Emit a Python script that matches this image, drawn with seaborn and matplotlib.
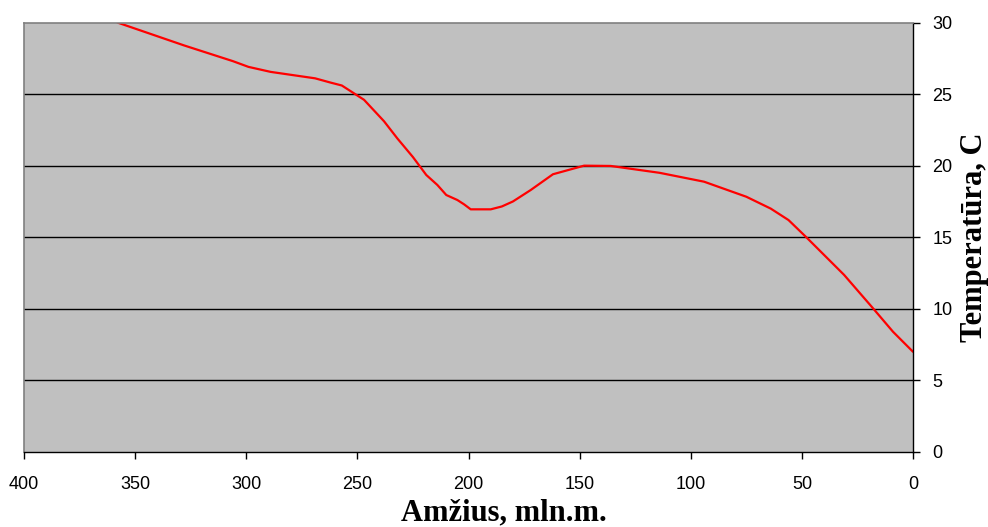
import matplotlib
matplotlib.use("Agg")
import matplotlib.pyplot as plt
import seaborn as sns
import pandas as pd

# Age (million years ago) and temperature (°C)
age_myr = [358, 328, 306, 299, 289, 269, 262, 257, 247, 238, 232, 225, 219,
           214, 210, 205, 202, 199, 190, 185, 180, 172, 162, 148, 136, 114,
           94, 75, 64, 56, 48, 31, 18, 9, 0]
temperature = [30.0, 28.4, 27.3, 26.9, 26.55, 26.1, 25.8, 25.6, 24.6, 23.1,
               21.9, 20.6, 19.35, 18.65, 17.95, 17.6, 17.3, 16.95, 16.95,
               17.15, 17.5, 18.3, 19.4, 20.0, 19.98, 19.5, 18.88, 17.83, 17.0,
               16.2, 15.0, 12.37, 10.04, 8.4, 7.0]

x_ticks = [400, 350, 300, 250, 200, 150, 100, 50, 0]
y_ticks = [0, 5, 10, 15, 20, 25, 30]

df = pd.DataFrame({"age": age_myr, "temp": temperature})

sns.set_style("white")
plt.rcParams["font.family"] = ["Liberation Sans", "DejaVu Sans"]
plt.rcParams["text.color"] = "black"
plt.rcParams["xtick.color"] = "black"
plt.rcParams["ytick.color"] = "black"

fig = plt.figure(figsize=(9.88, 5.27), dpi=100)
ax = fig.add_axes([24 / 988, 1 - 452 / 527, 889 / 988, 429.5 / 527])
ax.set_facecolor("#C0C0C0")

sns.lineplot(data=df, x="age", y="temp", ax=ax, color="#FF0000",
             linewidth=1.6, sort=False)

ax.set_xlim(400, 0)
ax.set_ylim(0, 30)
ax.set_xticks(x_ticks)
ax.set_yticks(y_ticks)
ax.set_xticklabels([str(v) for v in x_ticks], fontsize=13, color="black")
ax.set_yticklabels([str(v) for v in y_ticks], fontsize=13, color="black")

ax.yaxis.tick_right()
ax.tick_params(axis="x", direction="out", length=5, width=1, color="black",
               labelcolor="black", pad=12, bottom=True)
ax.tick_params(axis="y", direction="out", length=5, width=1, color="black",
               labelcolor="black", pad=9, right=True, left=False)

ax.grid(False)
for yv in y_ticks[1:-1]:
    ax.axhline(yv, color="black", linewidth=1, zorder=1)

for side in ("left", "top"):
    ax.spines[side].set_color("#808080")
    ax.spines[side].set_linewidth(1.2)
for side in ("right", "bottom"):
    ax.spines[side].set_color("black")
    ax.spines[side].set_linewidth(1.0)
for s in ax.spines.values():
    s.set_visible(True)

ax.set_xlabel("")
ax.set_ylabel("")
fig.text(504 / 988, 1 - 513 / 527, "Amžius, mln.m.", fontsize=22,
         fontweight="bold", family="Liberation Serif", color="black",
         ha="center", va="center")
fig.text(974 / 988, 1 - 237 / 527, "Temperatūra, C", fontsize=22,
         fontweight="bold", family="Liberation Serif", color="black",
         rotation=90, ha="center", va="center")

fig.savefig("out.png", dpi=100, facecolor="white")
